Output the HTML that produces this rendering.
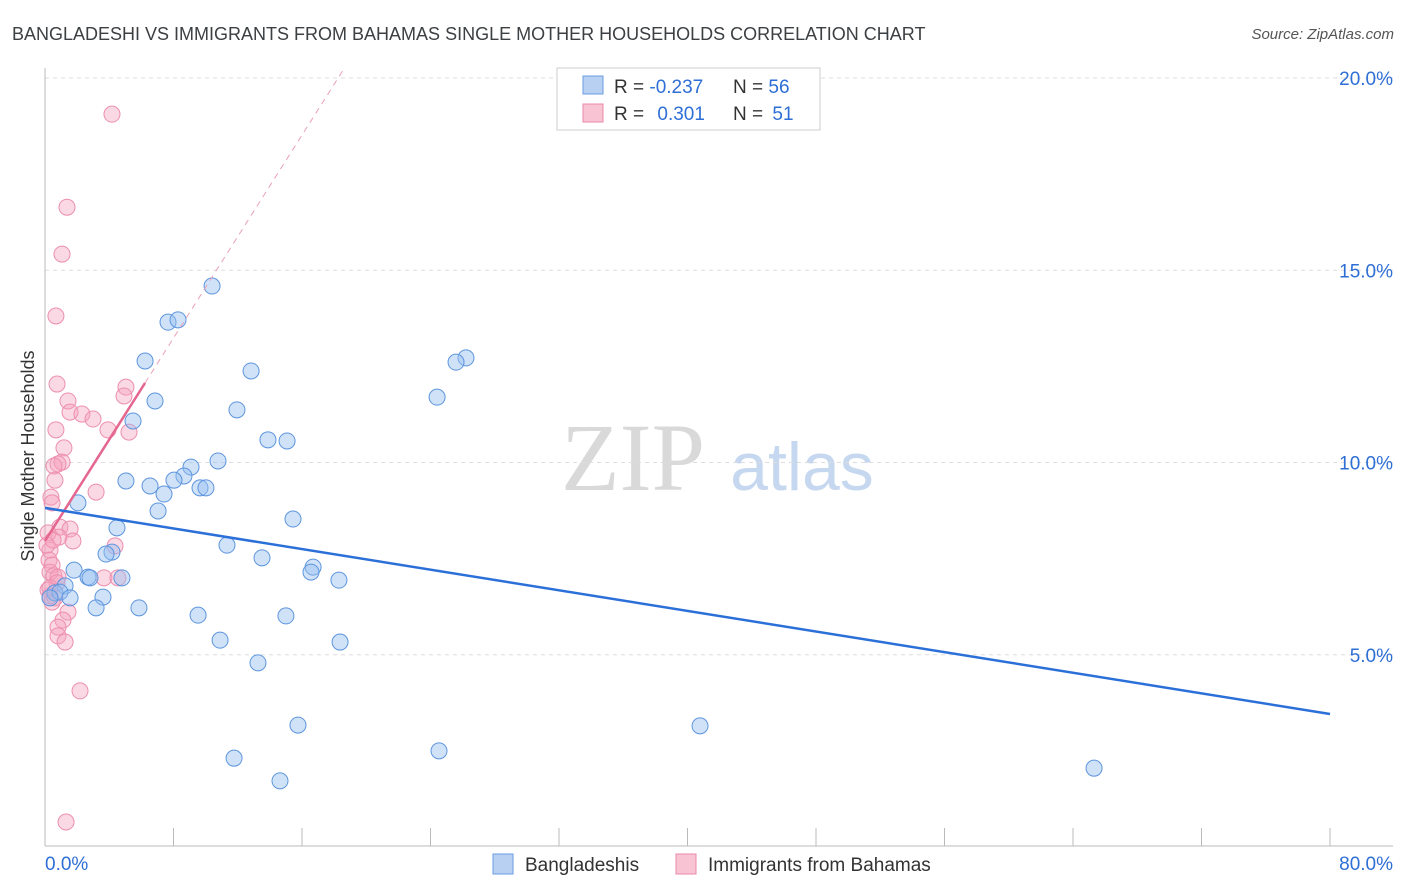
<!DOCTYPE html>
<html><head><meta charset="utf-8"><style>
body{margin:0;background:#fff;font-family:"Liberation Sans",sans-serif}
svg{display:block}
</style></head><body>
<svg id="chart" width="1406" height="892">
<text x="12" y="40" font-size="18" fill="#3c4043">BANGLADESHI VS IMMIGRANTS FROM BAHAMAS SINGLE MOTHER HOUSEHOLDS CORRELATION CHART</text>
<text x="1394" y="39" font-size="15" fill="#555" font-style="italic" text-anchor="end">Source: ZipAtlas.com</text>
<text x="633" y="490" font-size="96" fill="#d9d9d9" font-family="Liberation Serif,serif" text-anchor="middle">ZIP</text>
<text x="802" y="490" font-size="68" fill="#c6d8ef" text-anchor="middle">atlas</text>
<g id="grid"></g>
<g id="axes"></g>
<g id="marks"></g>
<text transform="translate(34,456) rotate(-90)" font-size="18" fill="#333" text-anchor="middle">Single Mother Households</text>
<g>
<rect x="557" y="68" width="263" height="62" fill="#fff" stroke="#ccc"/>
<rect x="583" y="76" width="20" height="18" fill="#b8d0f2" stroke="#6a9be0"/>
<rect x="583" y="104" width="20" height="18" fill="#f8c4d3" stroke="#e98aa8"/>
<text x="614" y="93" font-size="19" fill="#333">R = <tspan fill="#2e6fd6">-0.237</tspan></text>
<text x="733" y="93" font-size="19" fill="#333">N = <tspan fill="#2e6fd6">56</tspan></text>
<text x="614" y="120" font-size="19" fill="#333">R = <tspan fill="#2e6fd6" dx="8">0.301</tspan></text>
<text x="733" y="120" font-size="19" fill="#333">N = <tspan fill="#2e6fd6" dx="4">51</tspan></text>
</g>
<g>
<rect x="493" y="854" width="20" height="20" fill="#b8d0f2" stroke="#6a9be0"/>
<text x="525" y="871" font-size="19" fill="#333">Bangladeshis</text>
<rect x="676" y="854" width="20" height="20" fill="#f8c4d3" stroke="#e98aa8"/>
<text x="708" y="871" font-size="19" fill="#333">Immigrants from Bahamas</text>
</g>
</svg>
<script>
const blueX=[10.40,7.66,8.28,6.23,12.83,26.21,25.59,24.41,6.85,11.95,5.48,13.88,15.07,10.77,9.09,8.65,8.03,5.04,6.54,7.41,9.65,10.02,2.05,7.04,15.44,4.48,11.33,4.17,3.80,13.51,16.69,16.56,18.30,1.81,2.68,4.79,2.80,1.25,0.62,0.93,1.56,3.61,3.18,5.85,9.53,15.00,10.90,18.37,13.26,15.75,40.78,24.53,11.77,14.63,65.31,0.31];
const blueY=[14.59,13.65,13.71,12.64,12.38,12.72,12.61,11.70,11.60,11.37,11.08,10.59,10.56,10.04,9.88,9.65,9.54,9.52,9.39,9.18,9.34,9.34,8.95,8.74,8.53,8.30,7.85,7.67,7.62,7.52,7.28,7.15,6.94,7.20,7.02,7.00,7.00,6.79,6.61,6.63,6.48,6.50,6.22,6.22,6.03,6.01,5.38,5.33,4.79,3.17,3.15,2.50,2.31,1.72,2.05,6.48];
const pinkX=[4.17,1.37,1.06,0.68,0.75,5.04,4.92,1.43,1.56,2.30,2.99,3.92,5.23,0.68,1.18,1.06,0.81,0.56,0.62,3.18,0.37,0.44,0.93,1.56,0.87,1.74,4.36,0.19,0.31,0.25,0.44,0.31,0.56,0.81,3.67,4.54,0.75,0.19,0.31,0.62,0.44,1.43,1.12,0.81,0.81,1.25,2.18,1.31,0.31,0.12,0.50];
const pinkY=[19.06,16.64,15.42,13.81,12.04,11.96,11.73,11.60,11.31,11.26,11.13,10.85,10.79,10.85,10.38,10.01,9.96,9.91,9.54,9.23,9.10,8.95,8.32,8.27,8.06,7.96,7.83,8.17,7.72,7.46,7.33,7.15,7.05,7.02,7.00,7.00,6.87,6.68,6.53,6.48,6.37,6.11,5.90,5.72,5.49,5.33,4.06,0.65,6.74,7.85,7.98];
const yTicks=[5,10,15,20];
const yTickLabels=["5.0%","10.0%","15.0%","20.0%"];
const xTickLabels=["0.0%","80.0%"];
const blueTrend=[8.82,3.46];
const pinkTrend=[7.96,12.07,6.23];
const X=v=>45+v*1285/80, Y=v=>847-v*38.45;
const NS="http://www.w3.org/2000/svg";
function el(t,a,p){const e=document.createElementNS(NS,t);for(const k in a)e.setAttribute(k,a[k]);document.getElementById(p).appendChild(e);return e;}
yTicks.forEach((t,i)=>{
 const g=el('line',{x1:45,x2:1393,y1:Y(t),y2:Y(t),stroke:'#ddd','stroke-dasharray':'4,4'},'grid');
 
 
 const l=el('text',{x:1393,y:Y(t)+7,'font-size':19,fill:'#2e6fd6','text-anchor':'end'},'axes');l.textContent=yTickLabels[i];
 
 
});
let a=el('line',{x1:45,x2:1393,y1:846,y2:846,stroke:'#bbb'},'axes');


a=el('line',{x1:45,x2:45,y1:68,y2:846,stroke:'#bbb'},'axes');


for(let i=0;i<=10;i++){const t=el('line',{x1:X(i*8),x2:X(i*8),y1:828,y2:846,stroke:'#bbb'},'axes');
 
 }
let xl=el('text',{x:45,y:870,'font-size':19,fill:'#2e6fd6'},'axes');xl.textContent=xTickLabels[0];


xl=el('text',{x:1393,y:870,'font-size':19,fill:'#2e6fd6','text-anchor':'end'},'axes');xl.textContent=xTickLabels[1];


pinkX.forEach((v,i)=>{const c=el('circle',{cx:X(v),cy:Y(pinkY[i]),r:8,fill:'rgba(244,160,188,0.4)',stroke:'#ec8fae','stroke-width':1},'marks');
 
 });
blueX.forEach((v,i)=>{const c=el('circle',{cx:X(v),cy:Y(blueY[i]),r:8,fill:'rgba(150,190,240,0.45)',stroke:'#5d95de','stroke-width':1},'marks');
 
 });
const slope=(pinkTrend[1]-pinkTrend[0])/pinkTrend[2];
const xEnd=18.55;
let ln=el('line',{x1:X(pinkTrend[2]),y1:Y(pinkTrend[1]),x2:X(xEnd),y2:Y(pinkTrend[0]+slope*xEnd),stroke:'#eaa0b8','stroke-dasharray':'6,5','stroke-width':1},'marks');


ln=el('line',{x1:X(0),y1:Y(pinkTrend[0]),x2:X(pinkTrend[2]),y2:Y(pinkTrend[1]),stroke:'#e5668f','stroke-width':2.5},'marks');


ln=el('line',{x1:X(0),y1:Y(blueTrend[0]),x2:X(80),y2:Y(blueTrend[1]),stroke:'#2b6fd8','stroke-width':2.5},'marks');


</script>
</body></html>
